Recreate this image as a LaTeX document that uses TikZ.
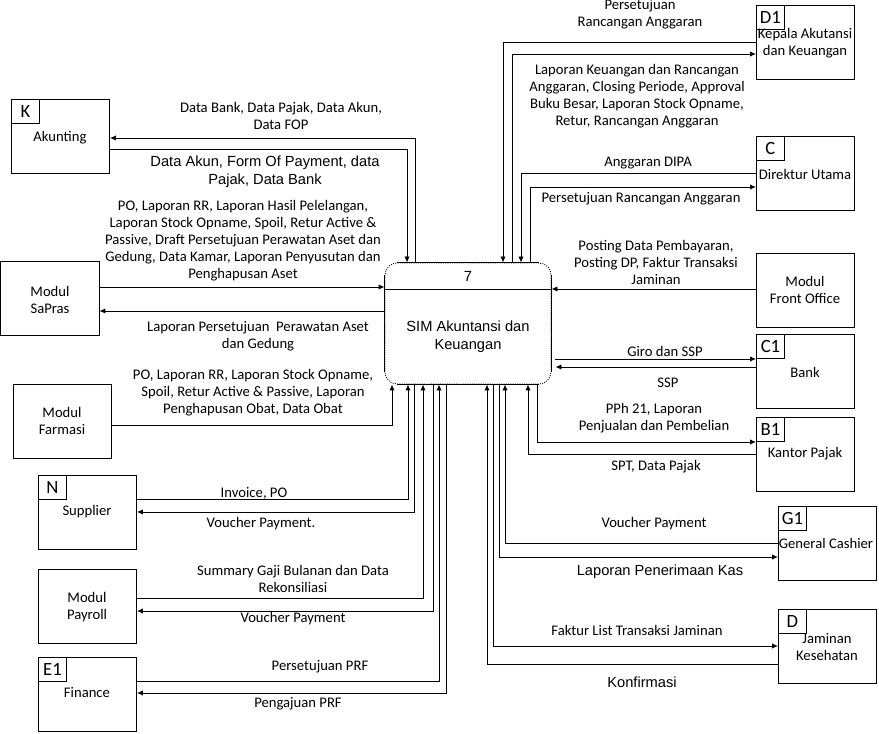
\documentclass[tikz,border=0pt]{standalone}
\usepackage{fontspec}
\setmainfont{Carlito}
\newfontfamily\arialf{Liberation Sans}
\usetikzlibrary{arrows.meta,calc}
\tikzset{
	ent/.style={draw, anchor=north west, minimum width=73.5pt, minimum height=55.5pt, inner sep=0pt},
	tag/.style={draw, anchor=north west, minimum width=21pt, minimum height=18pt, inner sep=0pt, font=\fontsize{14}{16}\selectfont},
	proc/.style={draw, densely dotted, rounded corners=9pt, minimum width=124.5pt, minimum height=90.75pt, inner sep=0pt},
	flow/.style={-{Latex[length=4.5pt,width=4pt]}},
	lbl/.style={align=center, inner sep=0pt},
	albl/.style={lbl, font=\arialf\fontsize{11}{13.5}\selectfont},
}

\begin{document}
\begin{tikzpicture}[x=0.75pt, y=-0.75pt, line width=0.7pt, font=\fontsize{11}{12.75}\selectfont]
		%%%%% START %%%%%
		\useasboundingbox (0,0) rectangle (879,734);

		% process
		\node[proc] (p) at (468,323.5) {};
		\draw ([xshift=9pt]p.north west) -- ([xshift=-9pt]p.north east);
		\draw ([xshift=9pt]p.south west) -- ([xshift=-9pt]p.south east);
		\draw ([yshift=-9pt]p.north west) -- ([yshift=9pt]p.south west);
		\draw ([yshift=-9pt]p.north east) -- ([yshift=9pt]p.south east);
		\draw (p.west |- 0,289) -- (p.east |- 0,289);
		\node[albl] (pnum) at (468,276) {7};
		\node[albl] (pname) at (468,337) {SIM Akuntansi dan\\Keuangan};

		% left entities
		\node[ent] (ak) at (11,99) {};
		\node[tag] (akt) at (ak.north west) {K};
		\node[lbl] (akn) at (60,138) {Akunting};

		\node[ent] (sp) at (0.5,261) {};
		\node[lbl] (spn) at (50,300) {Modul\\SaPras};

		\node[ent] (far) at (13,384) {};
		\node[lbl] (farn) at (62,421) {Modul\\Farmasi};

		\node[ent] (sup) at (38,475) {};
		\node[tag] (supt) at (sup.north west) {N};
		\node[lbl] (supn) at (87,512) {Supplier};

		\node[ent] (pay) at (38,569) {};
		\node[lbl] (payn) at (87,607) {Modul\\Payroll};

		\node[ent] (fin) at (38,657) {};
		\node[tag] (fint) at (fin.north west) {E1};
		\node[lbl] (finn) at (87,693) {Finance};

		% right entities
		\node[ent] (d1) at (756,5) {};
		\node[tag] (d1t) at (d1.north west) {D1};
		\node[lbl] (d1n) at (805,43) {Kepala Akutansi\\dan Keuangan};

		\node[ent] (c) at (756,136) {};
		\node[tag] (ct) at (c.north west) {C};
		\node[lbl] (cn) at (805,174) {Direktur Utama};

		\node[ent] (fo) at (756,253) {};
		\node[lbl] (fon) at (805,290) {Modul\\Front Office};

		\node[ent] (bank) at (756,334) {};
		\node[tag] (bankt) at (bank.north west) {C1};
		\node[lbl] (bankn) at (805,372) {Bank};

		\node[ent] (pajak) at (756,417) {};
		\node[tag] (pajakt) at (pajak.north west) {B1};
		\node[lbl] (pajakn) at (805,454) {Kantor Pajak};

		\node[ent] (g1) at (778,506) {};
		\node[tag] (g1t) at (g1.north west) {G1};
		\node[lbl] (g1n) at (826,543) {General Cashier};

		\node[ent] (jam) at (778,609) {};
		\node[tag] (jamt) at (jam.north west) {D};
		\node[lbl] (jamn) at (827,647) {Jaminan\\Kesehatan};

		% flows top
		\draw[flow] (ak.east |- 0,149) -| (p.north -| 407,0);
		\draw[flow] (p.north -| 415,0) |- (ak.east |- 0,138);
		\draw[flow] (d1.west |- 0,42) -| (p.north -| 503,0);
		\draw[flow] (p.north -| 512,0) |- (d1.west |- 0,54);
		\draw[flow] (c.west |- 0,173) -| (p.north -| 521,0);
		\draw[flow] (p.north -| 530,0) |- (c.west |- 0,187);

		% flows sides
		\draw[flow] (sp.east |- 0,287) -- (p.west |- 0,287);
		\draw[flow] (p.west |- 0,311) -- (sp.east |- 0,311);
		\draw[flow] (fo.west |- 0,289) -- (p.east |- 0,289);
		\draw[flow] ($(p.east |- 0,359)+(4,0)$) -- (bank.west |- 0,359);
		\draw[flow] (bank.west |- 0,367) -- ($(p.east |- 0,367)+(4,0)$);

		% flows bottom
		\draw[flow] (far.east |- 0,425) -| (p.south -| 392,0);
		\draw[flow] (sup.east |- 0,499) -| (p.south -| 408,0);
		\draw[flow] (p.south -| 414,0) |- (sup.east |- 0,512);
		\draw[flow] (pay.east |- 0,598) -| (p.south -| 423,0);
		\draw[flow] (p.south -| 433,0) |- (pay.east |- 0,611);
		\draw[flow] (fin.east |- 0,681) -| (p.south -| 439,0);
		\draw[flow] (p.south -| 446,0) |- (fin.east |- 0,693);
		\draw[flow] (jam.west |- 0,664) -| (p.south -| 487,0);
		\draw[flow] (p.south -| 493,0) |- (jam.west |- 0,646);
		\draw[flow] (p.south -| 499,0) |- (g1.west |- 0,557);
		\draw[flow] (g1.west |- 0,543) -| (p.south -| 505,0);
		\draw[flow] (pajak.west |- 0,454) -| (p.south -| 528,0);
		\draw[flow] (p.south -| 537,0) |- (pajak.west |- 0,442);

		% labels
		\node[lbl] (l1) at (281,116) {Data Bank, Data Pajak, Data Akun,\\Data FOP};
		\node[albl] (l2) at (265,172) {Data Akun, Form Of Payment, data\\Pajak, Data Bank};
		\node[lbl] (l3) at (243,241) {PO, Laporan RR, Laporan Hasil Pelelangan,\\Laporan Stock Opname, Spoil, Retur Active \&\\Passive, Draft Persetujuan Perawatan Aset dan\\Gedung, Data Kamar, Laporan Penyusutan dan\\Penghapusan Aset};
		\node[lbl] (l4) at (258,336) {Laporan Persetujuan\ \ Perawatan Aset\\dan Gedung};
		\node[lbl] (l5) at (253,393) {PO, Laporan RR, Laporan Stock Opname,\\Spoil, Retur Active \& Passive, Laporan\\Penghapusan Obat, Data Obat};
		\node[lbl] (l6) at (254,493) {Invoice, PO};
		\node[lbl] (l7) at (261,524) {Voucher Payment.};
		\node[lbl] (l8) at (293,579) {Summary Gaji Bulanan dan Data\\Rekonsiliasi};
		\node[lbl] (l9) at (293,619) {Voucher Payment};
		\node[lbl] (l10) at (320,667) {Persetujuan PRF};
		\node[lbl] (l11) at (298,704) {Pengajuan PRF};

		\node[lbl] (r1) at (640,14) {Persetujuan\\Rancangan Anggaran};
		\node[lbl] (r2) at (637,96) {Laporan Keuangan dan Rancangan\\Anggaran, Closing Periode, Approval\\Buku Besar, Laporan Stock Opname,\\Retur, Rancangan Anggaran};
		\node[lbl] (r3) at (648,163) {Anggaran DIPA};
		\node[lbl] (r4) at (641,199) {Persetujuan Rancangan Anggaran};
		\node[lbl] (r5) at (656,262) {Posting Data Pembayaran,\\Posting DP, Faktur Transaksi\\Jaminan};
		\node[lbl] (r6) at (665,351) {Giro dan SSP};
		\node[lbl] (r7) at (668,383) {SSP};
		\node[lbl] (r8) at (654,418) {PPh 21, Laporan\\Penjualan dan Pembelian};
		\node[lbl] (r9) at (656,467) {SPT, Data Pajak};
		\node[lbl] (r10) at (654,524) {Voucher Payment};
		\node[albl] (r11) at (660,572) {Laporan Penerimaan Kas};
		\node[lbl] (r12) at (637,630) {Faktur List Transaksi Jaminan};
		\node[albl] (r13) at (642,682) {Konfirmasi};

		%%%%% END %%%%%
\end{tikzpicture}
\end{document}
